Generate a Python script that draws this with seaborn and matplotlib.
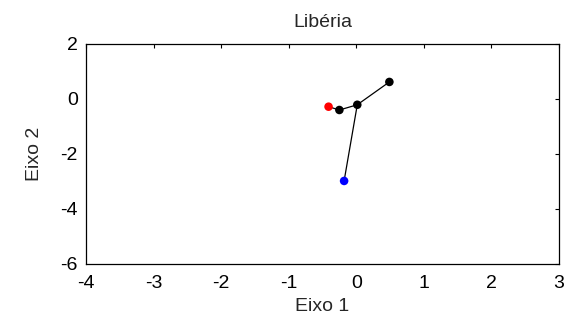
import pandas as pd
import matplotlib
matplotlib.use("Agg")
import matplotlib.pyplot as plt
import seaborn as sns

sns.set_style("white")
plt.rcParams['font.family'] = ['Liberation Sans', 'DejaVu Sans']
plt.rcParams['axes.unicode_minus'] = False

# points (Eixo 1, Eixo 2)
eixo1 = [-0.41, -0.25, 0.015, 0.49, -0.18]
eixo2 = [-0.28, -0.40, -0.21, 0.62, -2.98]
grupo = ["red", "black", "black", "black", "blue"]
# segments between points (indices)
ligacoes = [(0, 1), (1, 2), (2, 3), (2, 4)]

df = pd.DataFrame({"x": eixo1, "y": eixo2, "g": grupo})

fig = plt.figure(figsize=(5.68, 3.23), dpi=100)
ax = fig.add_axes([0.1514, 0.1827, 0.8327, 0.6811])

for a, b in ligacoes:
    ax.plot([eixo1[a], eixo1[b]], [eixo2[a], eixo2[b]], color="black", lw=0.9, zorder=1)

sns.scatterplot(data=df, x="x", y="y", hue="g",
                palette={"red": "#ff0000", "black": "#000000", "blue": "#0000ff"},
                s=38, edgecolor="none", legend=False, ax=ax, zorder=2)

ax.set_xlim(-4, 3)
ax.set_ylim(-6, 2)
ax.set_xticks(range(-4, 4))
ax.set_yticks(range(-6, 3, 2))
ax.tick_params(direction="in", length=3, width=0.8, top=True, right=True,
               labelsize=14, colors="black")
ax.tick_params(axis="x", pad=8)
ax.tick_params(axis="y", pad=6)
for s in ax.spines.values():
    s.set_linewidth(0.9)
    s.set_color("black")
ax.set_xlabel("Eixo 1", fontsize=14, labelpad=4)
ax.set_ylabel("Eixo 2", fontsize=14, labelpad=12)
ax.set_title("Libéria", fontsize=14, pad=12)

fig.savefig("out.png", dpi=100)
